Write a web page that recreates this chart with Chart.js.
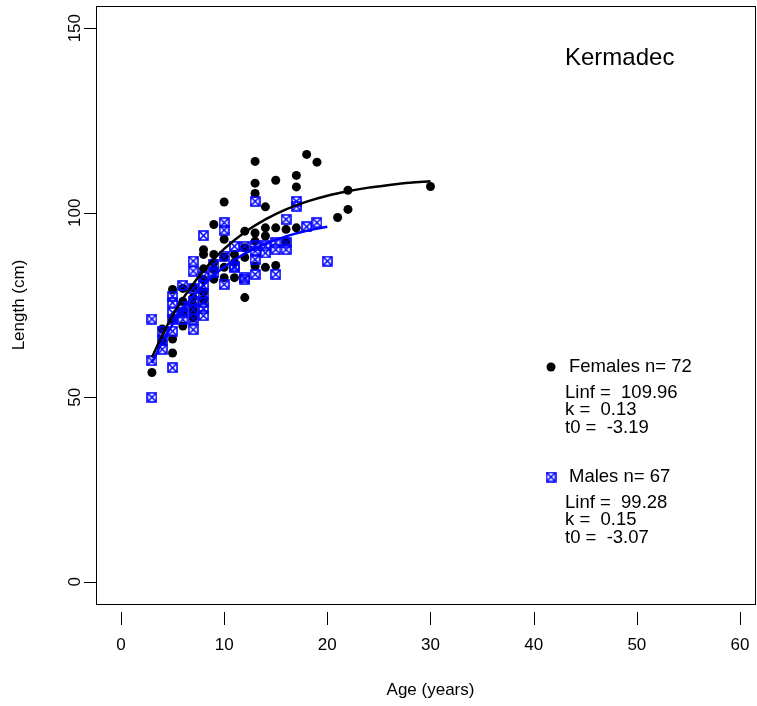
<!DOCTYPE html>
<html>
<head>
<meta charset="utf-8">
<script src="https://cdn.jsdelivr.net/npm/chart.js@4/dist/chart.umd.min.js"></script>
<style>
  html, body { margin: 0; padding: 0; background: #fff; }
  #wrap { width: 757px; height: 706px; }
</style>
</head>
<body>
<div id="wrap"><canvas id="chart" width="757" height="706"></canvas></div>
<script>
const femaleAges = [3, 4, 4, 5, 5, 5, 5, 6, 6, 6, 6, 7, 7, 7, 7, 7, 8, 8, 8, 8, 8, 8,
  9, 9, 9, 9, 9, 10, 10, 10, 10, 10, 11, 11, 11, 12, 12, 12, 12, 13, 13, 13, 13, 13, 13,
  14, 14, 14, 14, 15, 15, 15, 16, 16, 17, 17, 17, 18, 19, 21, 22, 22, 30];
const femaleLengths = [56.7, 68.5, 65.3, 79.2, 71.0, 65.8, 62.0, 69.3, 73.0, 76.0, 79.5,
  79.7, 77.0, 71.5, 75.0, 73.5, 90.0, 88.7, 84.8, 81.9, 78.5, 76.5,
  96.8, 88.7, 84.6, 82.0, 86.5, 102.9, 92.8, 85.2, 82.4, 88.0, 88.7, 82.4, 86.5,
  77.0, 95.0, 87.9, 90.5, 113.9, 108.0, 105.2, 92.3, 85.5, 94.5,
  101.6, 95.9, 93.7, 85.2, 108.8, 95.9, 85.7, 92.2, 95.5, 110.1, 107.0, 95.9,
  115.8, 113.7, 98.7, 106.1, 100.9, 107.1];

const maleAges = [3, 3, 3, 4, 4, 4, 5, 5, 5, 5, 5, 5, 6, 6, 6, 6, 7, 7, 7, 7, 7, 7, 7,
  8, 8, 8, 8, 8, 8, 8, 9, 9, 10, 10, 10, 10, 11, 11, 11, 12, 12, 12, 13, 13, 13, 13, 13,
  14, 14, 15, 15, 15, 16, 16, 16, 17, 17, 18, 19, 20];
const maleLengths = [50.0, 59.9, 71.2, 67.9, 63.0, 65.5, 77.4, 75.6, 71.1, 67.9, 58.0, 73.0,
  80.3, 72.9, 71.1, 74.5, 86.9, 84.2, 79.5, 76.0, 73.8, 71.2, 68.3,
  93.8, 82.8, 80.3, 75.8, 74.0, 72.1, 78.0, 86.0, 83.7, 97.3, 95.3, 88.2, 80.6,
  90.9, 85.5, 85.1, 90.9, 81.9, 82.4, 103.1, 89.6, 87.3, 83.3, 91.0,
  89.1, 91.0, 91.9, 90.0, 83.3, 98.2, 91.9, 90.0, 103.1, 101.8, 96.2, 97.3, 86.9];

// fitted growth curves as drawn
const femaleCurveAges = [3, 4, 5, 6, 7, 8, 9, 10, 12, 14, 16, 18, 20, 22, 24, 26, 28, 30];
const femaleCurveLengths = [60.8, 66.8, 72.1, 76.7, 80.7, 84.3, 87.4, 90.2, 94.7, 98.2,
  100.9, 103.0, 104.6, 105.8, 106.8, 107.5, 108.1, 108.5];
const maleCurveAges = [3, 4, 5, 6, 7, 8, 9, 10, 12, 14, 16, 18, 20];
const maleCurveLengths = [59.3, 64.9, 69.7, 73.8, 77.4, 80.4, 83.0, 85.3, 88.9, 91.6,
  93.6, 95.1, 96.2];

const xTicks = [0, 10, 20, 30, 40, 50, 60];
const yTicks = [0, 50, 100, 150];

const region = 'Kermadec';
const femaleLines = ['Females n= 72', 'Linf =  109.96', 'k =  0.13', 't0 =  -3.19'];
const maleLines = ['Males n= 67', 'Linf =  99.28', 'k =  0.15', 't0 =  -3.07'];

const BLUE = '#0000ff';
const FONT = '"Liberation Sans", Arial, sans-serif';

function pairs(xs, ys) {
  return xs.map((x, i) => ({ x, y: ys[i] }));
}

function boxCross(size, color) {
  const c = document.createElement('canvas');
  c.width = size; c.height = size;
  const g = c.getContext('2d');
  g.strokeStyle = color;
  g.lineWidth = 1.6;
  g.strokeRect(1, 1, size - 2, size - 2);
  g.beginPath();
  g.moveTo(1.5, 1.5); g.lineTo(size - 1.5, size - 1.5);
  g.moveTo(size - 1.5, 1.5); g.lineTo(1.5, size - 1.5);
  g.stroke();
  return c;
}
const maleMarker = boxCross(11, BLUE);

const decor = {
  id: 'decor',
  afterDraw(chart) {
    const { ctx, chartArea: a, scales: { x, y } } = chart;
    ctx.save();
    ctx.strokeStyle = '#000';
    ctx.lineWidth = 1;
    ctx.strokeRect(a.left + 0.5, a.top + 0.5, a.right - a.left - 1, a.bottom - a.top);

    ctx.fillStyle = '#000';
    ctx.font = '17px ' + FONT;
    ctx.textAlign = 'center';
    ctx.textBaseline = 'middle';

    // x axis: ticks sit below the box
    ctx.beginPath();
    xTicks.forEach(v => {
      const px = Math.round(x.getPixelForValue(v)) + 0.5;
      ctx.moveTo(px, a.bottom + 8);
      ctx.lineTo(px, a.bottom + 21);
    });
    ctx.stroke();
    xTicks.forEach(v => ctx.fillText(String(v), x.getPixelForValue(v), a.bottom + 41));
    ctx.fillText('Age (years)', x.getPixelForValue(30), a.bottom + 86);

    // y axis
    ctx.beginPath();
    yTicks.forEach(v => {
      const py = Math.round(y.getPixelForValue(v)) + 0.5;
      ctx.moveTo(a.left - 12, py);
      ctx.lineTo(a.left, py);
    });
    ctx.stroke();
    yTicks.forEach(v => {
      ctx.save();
      ctx.translate(a.left - 21, y.getPixelForValue(v));
      ctx.rotate(-Math.PI / 2);
      ctx.fillText(String(v), 0, 0);
      ctx.restore();
    });
    ctx.save();
    ctx.translate(19, y.getPixelForValue(75));
    ctx.rotate(-Math.PI / 2);
    ctx.fillText('Length (cm)', 0, 0);
    ctx.restore();

    // region label
    ctx.textAlign = 'left';
    ctx.font = '24px ' + FONT;
    ctx.fillText(region, 565, 58);

    // legend block
    ctx.font = '18.5px ' + FONT;
    const rows = [0, 26, 43, 61];
    femaleLines.forEach((t, i) => ctx.fillText(t, i ? 565 : 569, 367 + rows[i]));
    maleLines.forEach((t, i) => ctx.fillText(t, i ? 565 : 569, 477 + rows[i]));
    ctx.beginPath();
    ctx.arc(551, 367, 4.5, 0, Math.PI * 2);
    ctx.fill();
    ctx.drawImage(maleMarker, 551 - 5.5, 477 - 5.5);
    ctx.restore();
  }
};

new Chart(document.getElementById('chart'), {
  type: 'scatter',
  data: {
    datasets: [
      {
        label: 'Male fit',
        data: pairs(maleCurveAges, maleCurveLengths),
        showLine: true, pointRadius: 0, borderColor: BLUE, borderWidth: 2.5,
        cubicInterpolationMode: 'monotone', order: 0
      },
      {
        label: 'Female fit',
        data: pairs(femaleCurveAges, femaleCurveLengths),
        showLine: true, pointRadius: 0, borderColor: '#000', borderWidth: 2.5,
        cubicInterpolationMode: 'monotone', order: 1
      },
      {
        label: 'Males',
        data: pairs(maleAges, maleLengths),
        pointStyle: maleMarker, pointRadius: 5.5, order: 2
      },
      {
        label: 'Females',
        data: pairs(femaleAges, femaleLengths),
        pointStyle: 'circle', pointRadius: 4.5, backgroundColor: '#000', borderColor: '#000',
        borderWidth: 0, order: 3
      }
    ]
  },
  options: {
    responsive: false,
    animation: false,
    devicePixelRatio: 1,
    layout: { autoPadding: false, padding: { top: 6, right: 1, left: 0, bottom: 0 } },
    plugins: { legend: { display: false }, tooltip: { enabled: false } },
    scales: {
      x: {
        type: 'linear', min: -2.42, max: 61.55,
        grid: { display: false }, border: { display: false }, ticks: { display: false },
        afterFit: s => { s.height = 102; }
      },
      y: {
        type: 'linear', min: -6, max: 156,
        grid: { display: false }, border: { display: false }, ticks: { display: false },
        afterFit: s => { s.width = 96; }
      }
    }
  },
  plugins: [decor]
});
</script>
</body>
</html>
